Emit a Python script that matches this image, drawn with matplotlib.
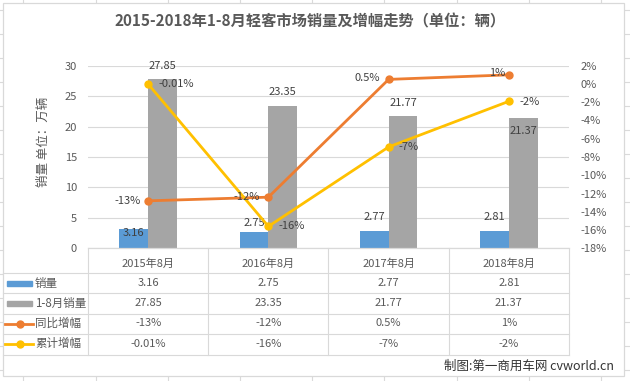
import matplotlib
matplotlib.use('Agg')
import matplotlib.pyplot as plt
import numpy as np
from matplotlib import transforms
from matplotlib.lines import Line2D
from matplotlib.patches import Rectangle

plt.rcParams['font.family'] = ['Noto Sans CJK SC', 'DejaVu Sans']

# ---------------- data ----------------
categories = ['2015年8月', '2016年8月', '2017年8月', '2018年8月']
monthly_sales = [3.16, 2.75, 2.77, 2.81]          # 万辆
ytd_sales = [27.85, 23.35, 21.77, 21.37]          # 万辆
yoy_growth = [-12.8, -12.4, 0.5, 1.0]             # %
ytd_growth = [-0.01, -15.6, -6.9, -1.9]           # %
yoy_labels = ['-13%', '-12%', '0.5%', '1%']
ytd_growth_labels = ['-0.01%', '-16%', '-7%', '-2%']
series_names = ['销量', '1-8月销量', '同比增幅', '累计增幅']
left_ticks = [0, 5, 10, 15, 20, 25, 30]
right_ticks = [2, 0, -2, -4, -6, -8, -10, -12, -14, -16, -18]
title = '2015-2018年1-8月轻客市场销量及增幅走势（单位：辆）'
ylabel = '销量 单位：万辆'
credit = '制图:第一商用车网 cvworld.cn'

BLUE, GRAY, ORANGE, YELLOW = '#5B9BD5', '#A5A5A5', '#ED7D31', '#FFC000'
TXT, LBL, GRID = '#595959', '#404040', '#D9D9D9'

W, H = 630, 381
fig = plt.figure(figsize=(W / 100, H / 100), dpi=100)

def fx(px):
    return px / W

def fy(py):
    return 1 - py / H

# background: spreadsheet grid + chart frame
bg = fig.add_axes([0, 0, 1, 1], zorder=-10)
bg.set_xlim(0, W)
bg.set_ylim(H, 0)
bg.axis('off')
for k in range(10):
    bg.axvline(23.3 + 72.2 * k, color='#DADADA', lw=0.8, zorder=1)
for k in range(17):
    bg.axhline(9.5 + 24 * k, color='#DADADA', lw=0.8, zorder=1)
bg.add_patch(Rectangle((3, 3), 621, 373, facecolor='white', edgecolor='#D9D9D9', lw=0.9, zorder=5))

# main axes
top_px, bot_px, left_px, right_px = 65.7, 248.3, 88, 569
ax = fig.add_axes([fx(left_px), fy(bot_px), (right_px - left_px) / W, (bot_px - top_px) / H])
ax.set_facecolor('none')
x = np.arange(len(categories))
bw = 0.24
ax.set_xlim(-0.5, len(categories) - 0.5)
ax.set_ylim(0, 30)
ax.set_yticks(left_ticks)
ax.yaxis.grid(True, color=GRID, lw=0.8)
ax.set_axisbelow(True)
for s in ['top', 'right', 'left']:
    ax.spines[s].set_visible(False)
ax.spines['bottom'].set_color(GRID)
ax.spines['bottom'].set_linewidth(0.9)
ax.set_xticks([])
ax.tick_params(axis='y', length=0, labelsize=8, labelcolor=TXT, pad=8)

ax.bar(x - bw / 2, monthly_sales, bw, color=BLUE, zorder=2)
ax.bar(x + bw / 2, ytd_sales, bw, color=GRAY, zorder=2)

blue_dy = [-4, 9, 14, 14]
gray_dy = [13, 14, 13, -13]
for i in range(len(categories)):
    ax.annotate(f'{monthly_sales[i]:.2f}', xy=(x[i] - bw / 2, monthly_sales[i]), xytext=(0, blue_dy[i]),
                textcoords='offset pixels', ha='center', va='center', fontsize=8, color=LBL, zorder=5)
    ax.annotate(f'{ytd_sales[i]:.2f}', xy=(x[i] + bw / 2, ytd_sales[i]), xytext=(0, gray_dy[i]),
                textcoords='offset pixels', ha='center', va='center', fontsize=8, color=LBL, zorder=5)

ax2 = ax.twinx()
ax2.set_ylim(-18, 2)
ax2.set_yticks(right_ticks)
ax2.set_yticklabels([f'{t}%' for t in right_ticks])
for s in ax2.spines.values():
    s.set_visible(False)
ax2.tick_params(axis='y', length=0, labelsize=8, labelcolor=TXT, pad=8)

ax2.plot(x, yoy_growth, color=ORANGE, lw=2.0, marker='o', ms=5, zorder=3)
ax2.plot(x, ytd_growth, color=YELLOW, lw=2.0, marker='o', ms=5, zorder=3)

yoy_off = [(-21, 0), (-22, 0), (-21, 1), (-12, 2)]
ytd_off = [(28, 0), (23, 0), (20, 0), (21, -1)]
for i in range(len(categories)):
    ax2.annotate(yoy_labels[i], xy=(x[i], yoy_growth[i]), xytext=yoy_off[i], textcoords='offset pixels',
                 ha='center', va='center', fontsize=8, color=LBL)
    ax2.annotate(ytd_growth_labels[i], xy=(x[i], ytd_growth[i]), xytext=ytd_off[i], textcoords='offset pixels',
                 ha='center', va='center', fontsize=8, color=LBL)

# data table under the chart
ov = fig.add_axes([0, 0, 1, 1], zorder=5)
ov.set_xlim(0, W)
ov.set_ylim(H, 0)
ov.axis('off')
ov.patch.set_visible(False)
blend = transforms.blended_transform_factory(ax.transData, ov.transData)

row_lines = [272.5, 293, 313.5, 334, 355]
for yl in row_lines:
    ov.add_line(Line2D([3, right_px], [yl, yl], color=GRID, lw=0.8))
for b in np.arange(-0.5, len(categories), 1.0):
    ov.add_line(Line2D([b, b], [bot_px, 355], color=GRID, lw=0.8, transform=blend))

header_y = 264
row_y = [283, 303, 323.5, 344]
rows = [
    [f'{v:.2f}' for v in monthly_sales],
    [f'{v:.2f}' for v in ytd_sales],
    yoy_labels,
    ytd_growth_labels,
]
for i, c in enumerate(categories):
    ov.text(x[i], header_y, c, transform=blend, ha='center', va='center', fontsize=8, color=TXT)
    for r in range(4):
        ov.text(x[i], row_y[r], rows[r][i], transform=blend, ha='center', va='center', fontsize=8, color=TXT)

# legend keys
ov.add_patch(Rectangle((7, row_y[0] - 2.5), 25, 5, color=BLUE))
ov.add_patch(Rectangle((7, row_y[1] - 2.5), 25, 5, color=GRAY))
for r, col in [(2, ORANGE), (3, YELLOW)]:
    ov.add_line(Line2D([5, 33], [row_y[r], row_y[r]], color=col, lw=2.0))
    ov.add_line(Line2D([19.5], [row_y[r]], color=col, marker='o', ms=5))
for r in range(4):
    ov.text(35, row_y[r], series_names[r], ha='left', va='center', fontsize=8.3, color=TXT)

# texts
fig.text(fx(310), fy(21), title, ha='center', va='center', fontsize=11, fontweight='bold', color=TXT)
fig.text(fx(43), fy(142), ylabel, rotation=90, ha='center', va='center', fontsize=9, color=TXT)
fig.text(fx(614), fy(366), credit, ha='right', va='center', fontsize=9, color='#333333')

fig.savefig('out.png', dpi=100)
